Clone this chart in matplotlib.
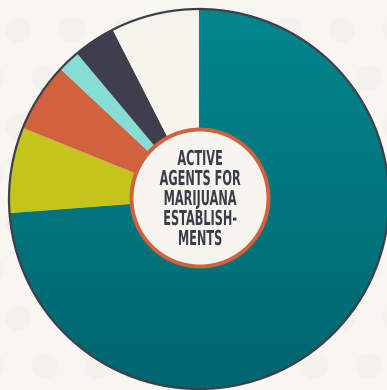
import matplotlib
matplotlib.use("Agg")
import matplotlib.pyplot as plt
import numpy as np
from matplotlib.patches import Circle
from matplotlib.colors import LinearSegmentedColormap
from matplotlib.patheffects import AbstractPathEffect
from matplotlib.transforms import Affine2D

# Data (share of active agents, clockwise from 12 o'clock)
segments = ["Segment 1", "Segment 2", "Segment 3", "Segment 4", "Segment 5", "Segment 6"]
shares = [73.8, 7.3, 5.9, 1.9, 3.6, 7.5]
colors = ["#018088", "#c3c51c", "#d0623e", "#86ddd3", "#3f3e4c", "#f4f3ec"]
title_text = "ACTIVE\nAGENTS FOR\nMARIJUANA\nESTABLISH-\nMENTS"

W, H = 387, 390
fig = plt.figure(figsize=(W / 100, H / 100), dpi=100)
bg = "#f7f6f1"
fig.patch.set_facecolor(bg)
ax = fig.add_axes([0, 0, 1, 1])
ax.set_facecolor(bg)

# faint polka-dot background
for j, yy in enumerate(np.arange(30, 420, 48)):
    off = 18 if j % 2 == 0 else 45
    for xx in np.arange(off - 54, 420, 54):
        ax.add_patch(Circle((xx, H - yy), 13, facecolor="#f4f2ec", edgecolor="none", zorder=0))

cx, cy, r = 199, H - 199, 190
wedges, _ = ax.pie(shares, colors=colors, startangle=90, counterclock=False,
                   center=(cx, cy), radius=r, wedgeprops=dict(linewidth=0))
for w in wedges:
    w.set_zorder(2)

# vertical gradient on the large teal slice
grad = np.linspace(0, 1, 256).reshape(-1, 1)
cmap = LinearSegmentedColormap.from_list("teal", ["#006670", "#02868c"])
im = ax.imshow(grad, cmap=cmap, extent=(cx - r, cx + r, cy - r, cy + r),
               origin="lower", aspect="auto", zorder=2.5)
im.set_clip_path(wedges[0])

# outer outline
ax.add_patch(Circle((cx, cy), r, facecolor="none", edgecolor="#3f3e4c", linewidth=1.6, zorder=3))

# centre disc
ax.add_patch(Circle((cx + 1, cy + 1), 68.5, facecolor="#f5f4ee", edgecolor="#d0623e",
                    linewidth=2.8, zorder=4))


class Squeeze(AbstractPathEffect):
    """Horizontally condense the glyph outlines around a fixed x (display px)."""
    def __init__(self, sx, x0):
        super().__init__()
        self.sx, self.x0 = sx, x0

    def draw_path(self, renderer, gc, tpath, affine, rgbFace=None):
        t = affine + Affine2D().translate(-self.x0, 0).scale(self.sx, 1).translate(self.x0, 0)
        renderer.draw_path(gc, tpath, t, rgbFace)


tx, ty = 200, H - 199
ax.text(tx, ty, title_text, ha="center", va="center", color="#3d3b48",
        fontsize=14.8, fontweight="bold", linespacing=1.0,
        family="DejaVu Sans", zorder=5,
        path_effects=[Squeeze(0.55, tx)])

ax.set_xlim(0, W)
ax.set_ylim(0, H)
ax.set_aspect("auto")
ax.axis("off")
fig.savefig("out.png", dpi=100, facecolor=bg)
